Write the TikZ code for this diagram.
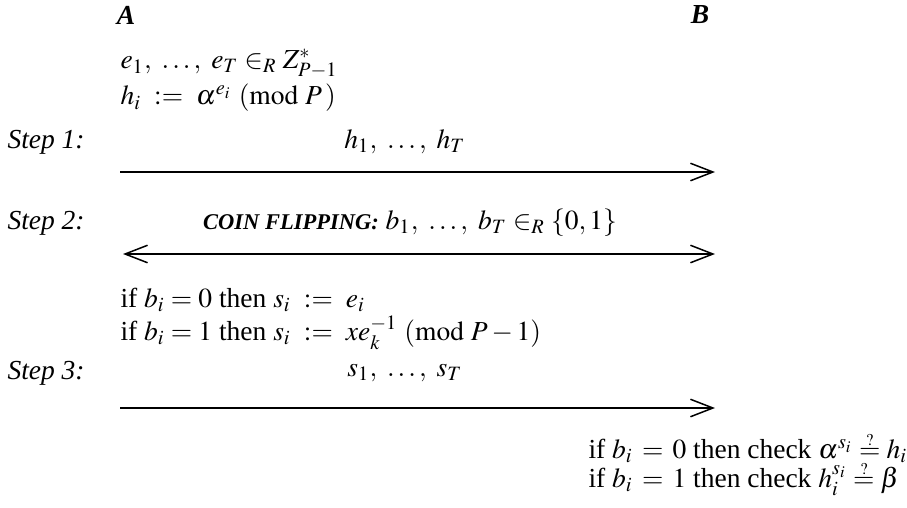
\documentclass[tikz,border=0pt]{standalone}
\usepackage{amsmath,amssymb}
\usepackage{mathptmx}
\usepackage{fontspec}
\setmainfont{Liberation Serif}
\usetikzlibrary{arrows.meta}
\newcommand{\qeq}{\mathrel{\overset{\raisebox{-.9ex}{$\scriptscriptstyle ?$}}{=}}}
\newcommand{\elevn}{\fontsize{11}{13}\selectfont}

\begin{document}
\begin{tikzpicture}[x=.4pt,y=-.4pt,every node/.style={inner sep=0pt,font=\elevn},
  txt/.style={anchor=west},
  steplabel/.style={anchor=west,font=\elevn\itshape},
  party/.style={font=\elevn\bfseries\itshape},
  msg/.style={line width=.5pt,-{Straight Barb[length=9pt,width=7pt,line width=.6pt]}},
  msgboth/.style={line width=.5pt,{Straight Barb[length=9pt,width=7pt,line width=.6pt]}-{Straight Barb[length=9pt,width=7pt,line width=.6pt]}}]
\useasboundingbox (0,0) rectangle (907,507);
% parties
\node[party] (pa) at (126,15) {A};\node[party] (pb) at (700,15) {B};
% A commits
\node[txt] (ech) at (120,64) {$e_1,\ \ldots,\ e_T \in_R Z^{*}_{P-1}$};
\node[txt] (hdef) at (120,98) {$h_i\ :=\ \alpha^{e_i}\ (\mathrm{mod}\ P\,)$};
% step 1
\node[steplabel] (s1) at (7,142) {Step 1:};\node (m1) at (405,142) {$h_1,\ \ldots,\ h_T$};
\coordinate (a1) at (120,172);\coordinate (b1) at (715,172);
\draw[msg] (a1) -- (b1);
% step 2
\node[steplabel] (s2) at (7,223) {Step 2:};
\node (m2) at (410,223) {{\fontsize{9}{11}\selectfont\bfseries\itshape COIN FLIPPING:} $b_1,\ \ldots,\ b_T \in_R \{0, 1\}$};
\coordinate (a2) at (123,254);\coordinate (b2) at (715,254);
\draw[msgboth] (a2) -- (b2);
\node[txt] (r0) at (120,300) {if $b_i = 0$ then $s_i\ :=\ e_i$};
\node[txt] (r1) at (120,333) {if $b_i = 1$ then $s_i\ :=\ x e_k^{-1}\ (\mathrm{mod}\ P-1)$};
% step 3
\node[steplabel] (s3) at (7,373) {Step 3:};\node (m3) at (405,373) {$s_1,\ \ldots,\ s_T$};
\coordinate (a3) at (120,408);\coordinate (b3) at (715,408);
\draw[msg] (a3) -- (b3);
% B checks
\node[txt] (c0) at (588,447) {if $b_i\, =\, 0$ then check $\alpha^{s_i}\qeq h_i$};
\node[txt] (c1) at (588,478) {if $b_i\, =\, 1$ then check $h_i^{s_i}\qeq \beta$};
\end{tikzpicture}
\end{document}
